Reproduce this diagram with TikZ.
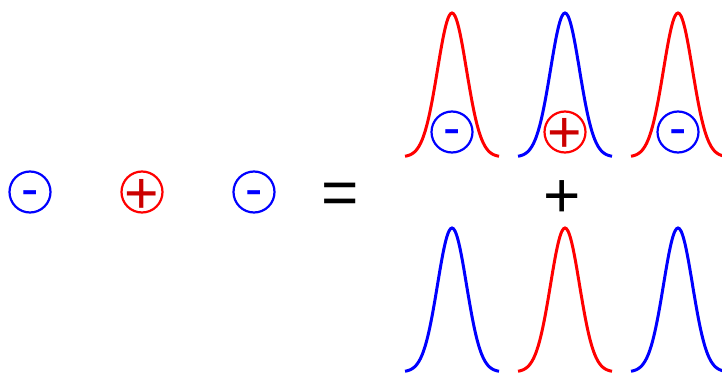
\documentclass[tikz,border=0pt]{standalone}
\usepackage{fontspec}
\setsansfont{Liberation Sans}
\definecolor{darkred}{RGB}{204,0,0}

\begin{document}
\begin{tikzpicture}[x=1pt, y=-1pt,
    charge/.style={circle, draw, line width=2.2pt, minimum size=41pt, inner sep=0pt},
    sign/.style={inner sep=0pt, text depth=0pt},
    negcharge/.style={charge, blue, label={[sign, text=blue, text height=28pt, font=\sffamily\fontsize{52}{52}\selectfont]center:-}},
    poscharge/.style={charge, red, label={[sign, text=darkred, text height=42pt, font=\sffamily\fontsize{59}{59}\selectfont]center:+}},
    op/.style={sign, text=black, text height=44pt, font=\sffamily\fontsize{64}{64}\selectfont},
    wave/.style={line width=3pt, smooth, samples=61}]
    \useasboundingbox (0,0) rectangle (722,374);
    % charges on their own
    \node[negcharge] (q1) at (30,192) {};
    \node[poscharge] (q2) at (142,192) {};
    \node[negcharge] (q3) at (254,192) {};
    \node[op] (eq) at (340,192) {=};
    % upper row: bumps with charges
    \foreach \m/\c in {452/red,565/blue,678/red} {
        \draw[wave, \c] plot[domain=-47:47] ({\m+\x}, {157-144*exp(-(\x*\x)/420)});
    }
    \node[negcharge] (a1) at (452,132) {};
    \node[poscharge] (a2) at (565,132) {};
    \node[negcharge] (a3) at (678,132) {};
    \node[op] (plus) at (562,195) {+};
    % lower row: bumps only
    \foreach \m/\c in {452/blue,565/red,678/blue} {
        \draw[wave, \c] plot[domain=-47:47] ({\m+\x}, {372-144*exp(-(\x*\x)/420)});
    }
\end{tikzpicture}
\end{document}
